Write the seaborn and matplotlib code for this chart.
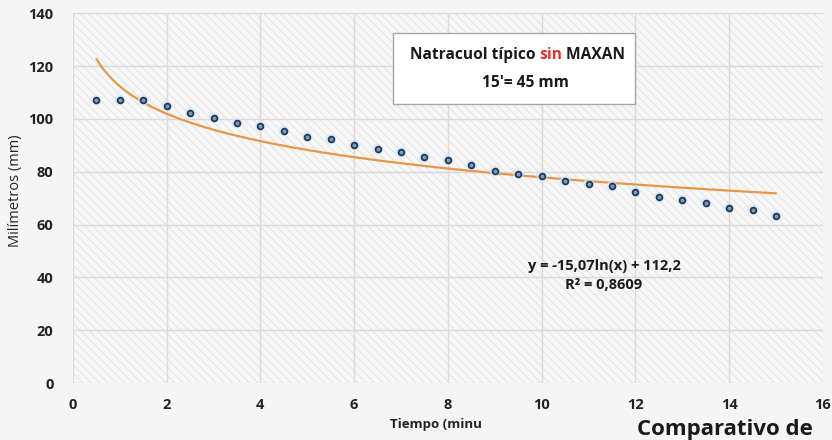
import numpy as np
import pandas as pd
import seaborn as sns
import matplotlib.pyplot as plt
from matplotlib.patches import Rectangle

# datos
tiempo = [0.5, 1.0, 1.5, 2.0, 2.5, 3.0, 3.5, 4.0, 4.5, 5.0,
          5.5, 6.0, 6.5, 7.0, 7.5, 8.0, 8.5, 9.0, 9.5, 10.0,
          10.5, 11.0, 11.5, 12.0, 12.5, 13.0, 13.5, 14.0, 14.5, 15.0]
milimetros = [107, 107, 107, 105, 102.3, 100.5, 98.5, 97.2, 95.5, 93.2,
              92.3, 90.2, 88.5, 87.5, 85.5, 84.4, 82.5, 80.3, 79.3, 78.3,
              76.4, 75.5, 74.5, 72.3, 70.3, 69.4, 68.2, 66.2, 65.5, 63.4]
x_ticks = [0, 2, 4, 6, 8, 10, 12, 14, 16]
y_ticks = [0, 20, 40, 60, 80, 100, 120, 140]

df = pd.DataFrame({'tiempo': tiempo, 'mm': milimetros})

sns.set_style('white')
plt.rcParams['font.family'] = ['Open Sans', 'DejaVu Sans']
plt.rcParams['hatch.linewidth'] = 0.8

fig = plt.figure(figsize=(8.32, 4.4), dpi=100, facecolor='#f5f5f5')
ax = fig.add_axes([0.0877, 0.1295, 0.9013, 0.8405])
ax.set_facecolor('#f7f7f7')

# fondo rayado
ax.add_patch(Rectangle((0, 0), 1, 1, transform=ax.transAxes, facecolor='#f7f7f7',
                       edgecolor='#e4e4e4', hatch='\\\\\\\\', lw=0, zorder=0))

# linea de tendencia logaritmica
sns.regplot(data=df, x='tiempo', y='mm', logx=True, ci=None, scatter=False,
            line_kws={'color': '#e8974a', 'lw': 1.6, 'zorder': 3}, ax=ax)

# puntos con halo
sns.scatterplot(data=df, x='tiempo', y='mm', s=60, color='#d4e6f6', alpha=0.7,
                edgecolor='none', ax=ax, zorder=4)
sns.scatterplot(data=df, x='tiempo', y='mm', s=17, color='#7d9cbd',
                edgecolor='#1f3b5a', linewidth=1.3, ax=ax, zorder=5)

ax.set_xlim(0, 16)
ax.set_ylim(0, 140)
ax.set_xticks(x_ticks)
ax.set_yticks(y_ticks)
ax.grid(True, color='#dadada', lw=1.0, zorder=1)
ax.set_axisbelow(True)
for s in ax.spines.values():
    s.set_visible(False)
ax.tick_params(axis='y', length=0, labelsize=10.5, labelcolor='#222222', pad=14)
ax.tick_params(axis='x', length=0, labelsize=10.5, labelcolor='#222222', pad=11)
for lab in ax.get_xticklabels() + ax.get_yticklabels():
    lab.set_fontweight('bold')
ax.set_xlabel('')
ax.set_ylabel('Milímetros (mm)', fontsize=10.5, color='#222222')
ax.yaxis.set_label_coords(-0.066, 0.52)

# cuadro de texto
ax.add_patch(Rectangle((0.427, 0.754), 0.323, 0.192, transform=ax.transAxes,
                       facecolor='white', edgecolor='#a6a6a6', lw=1, zorder=6))
t1 = ax.text(0.449, 0.886, 'Natracuol típico ', transform=ax.transAxes, ha='left',
             va='center', fontsize=11.2, fontweight='bold', color='#1a1a1a', zorder=7)
t2 = ax.annotate('sin', xy=(1, 0), xycoords=t1, ha='left', va='bottom',
                 fontsize=11.2, fontweight='bold', color='#e0302f', zorder=7)
ax.annotate(' MAXAN', xy=(1, 0), xycoords=t2, ha='left', va='bottom',
            fontsize=11.2, fontweight='bold', color='#1a1a1a', zorder=7)
ax.text(0.604, 0.811, "15'= 45 mm", transform=ax.transAxes, ha='center', va='center',
        fontsize=11.2, fontweight='bold', color='#1a1a1a', zorder=7)

# ecuacion
ax.text(11.33, 44.3, 'y = -15,07ln(x) + 112,2', ha='center', va='center',
        fontsize=10.5, fontweight='bold', color='#1a1a1a')
ax.text(11.33, 37.2, 'R² = 0,8609', ha='center', va='center',
        fontsize=10.5, fontweight='bold', color='#1a1a1a')

# textos cortados
fig.text(0.469, 0.036, 'Tiempo (minu', fontsize=9.5, fontweight='bold',
         color='#222222', va='center')
fig.text(0.766, 0.0, 'Comparativo de', fontsize=16, fontweight='bold',
         color='#1a1a1a', va='bottom')

plt.savefig('out.png', dpi=100, facecolor=fig.get_facecolor())
